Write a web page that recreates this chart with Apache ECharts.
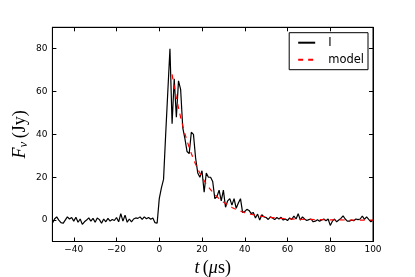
<!DOCTYPE html>
<html><head><meta charset="utf-8">
<script src="https://cdn.jsdelivr.net/npm/echarts@6/dist/echarts.min.js"></script>
<style>html,body{margin:0;padding:0;background:#fff}#c{width:415px;height:277px}</style>
</head><body><div id="c"></div>
<script>
// Sampling grid of the measured light curve (µs)
const tStart = -50, tStep = 1;
// Measured flux density I (Jy), one value per µs from -50 to 100
const fluxI = [
  -1.5, 0.5, 1.5, 0, -1.2, -1.5, 0, 1.5, 0.5, 1.2,
  -0.5, 1.3, -1, 0.5, -2, -0.8, 0, 1, -0.5, 0.8,
  -1, 1, 0.2, -1.5, 0.5, -0.8, 0.8, -0.5, 0.3, -0.2,
  1.2, -0.8, 3, -0.5, 2.3, -1, 0.5, -0.8, 0.5, 1,
  0.8, 1.5, 0.3, 1.5, 0.6, 1.2, 0.4, 1, -1.2, -1.5,
  10, 15, 19, 40, 60, 80, 45, 66, 48, 65,
  61, 43, 38, 32, 31, 41, 40, 29, 22, 20,
  23, 13, 22, 20, 20, 18, 10, 11, 14, 9,
  14, 6, 9, 10, 7, 10, 5.5, 8, 10, 3.5,
  4, 5, 4.5, 3, 3.5, 1, 2.8, 0, 2.5, 1.5,
  1.2, 0.3, 1.5, 1, 0.2, 1.2, 0.5, 1.3, 0, 0.5,
  -0.2, 1, 0.3, 1.9, 0.5, 3, 0, 1.5, 0.5, -0.2,
  0.2, 0.5, -0.8, -0.5, 0.2, -0.5, 0, 0.5, -0.3, 0.5,
  -2.5, -0.5, 0.5, -0.8, 0, 0.8, 2, 0.5, -0.5, -0.5,
  0, -0.3, 0.5, 0.2, 0.5, 1.9, 0.3, 1.5, 0.3, -0.8, 0
];
// Model curve
const modelT = [6,7,8,9,10,11,12,13,14,15,16,17,18,19,20,21,22,23,24,25,26,27,28,29,30,31,32,33,34,35,36,37,38,39,40,42,44,46,48,50,55,60,65,70,75,80,90,100];
const modelF = [68.0,62.3,57.1,52.4,48.0,44.0,40.3,37.0,33.9,31.1,28.5,26.1,23.9,21.9,20.1,18.4,16.9,15.5,14.2,13.0,11.9,10.9,10.0,9.2,8.4,7.7,7.1,6.5,5.9,5.4,5.0,4.6,4.2,3.8,3.5,2.9,2.5,2.1,1.7,1.5,0.9,0.6,0.4,0.3,0.2,0.1,0.0,0.0];
// Tick labels
const xTicks = [-40, -20, 0, 20, 40, 60, 80, 100];
const yTicks = [0, 20, 40, 60, 80];

const times = fluxI.map((_, i) => tStart + i * tStep);
const dataI = times.map((t, i) => [t, fluxI[i]]);
const dataModel = modelT.map((t, i) => [t, modelF[i]]);

const tickFont = {fontFamily: 'DejaVu Sans', fontSize: 9, color: '#000'};
const serif = 'Liberation Serif';
const rich = {
  i: {fontFamily: serif, fontStyle: 'italic', fontSize: 18, color: '#000', lineHeight: 20},
  r: {fontFamily: serif, fontSize: 18, color: '#000', lineHeight: 20},
  s: {fontFamily: serif, fontStyle: 'italic', fontSize: 13, color: '#000', lineHeight: 13, verticalAlign: 'bottom'}
};
const lineBlack = {show: true, onZero: false, lineStyle: {color: '#000', width: 1}};
const tickCommon = {show: true, inside: true, length: 4, lineStyle: {color: '#000', width: 1}};

const chart = echarts.init(document.getElementById('c'), null, {renderer: 'canvas'});
chart.setOption({
  animation: false,
  backgroundColor: '#fff',
  grid: {left: 52.4, right: 42, top: 27.3, bottom: 35.5, show: true, borderColor: '#000', borderWidth: 1,
         containLabel: false, outerBoundsMode: 'none'},
  legend: {
    right: 47, top: 32.7, orient: 'vertical',
    borderColor: '#000', borderWidth: 1, padding: [4, 4, 4, 8],
    itemWidth: 17, itemHeight: 14, itemGap: 5,
    itemStyle: {opacity: 0},
    textStyle: {fontFamily: 'DejaVu Sans', fontSize: 11.5, color: '#000', padding: [0, 0, 0, 8]},
    data: ['I', 'model']
  },
  xAxis: [{
    type: 'value', min: -50, max: 100, position: 'bottom',
    axisLine: lineBlack,
    axisTick: Object.assign({}, tickCommon, {customValues: xTicks}),
    axisLabel: Object.assign({}, tickFont, {customValues: xTicks, margin: 4, formatter: v => String(v).replace('-', '\u2212')}),
    splitLine: {show: false},
    name: '{i|t} {r|(}{i|\u03bc}{r|s)}', nameLocation: 'middle', nameGap: 15,
    nameTextStyle: {rich: rich}
  }, {
    type: 'value', min: -50, max: 100, position: 'top',
    axisLine: lineBlack,
    axisTick: Object.assign({}, tickCommon, {customValues: xTicks}),
    axisLabel: {show: false}, splitLine: {show: false}
  }],
  yAxis: [{
    type: 'value', min: -10, max: 90, position: 'left',
    axisLine: lineBlack,
    axisTick: Object.assign({}, tickCommon, {customValues: yTicks}),
    axisLabel: Object.assign({}, tickFont, {customValues: yTicks, margin: 5}),
    splitLine: {show: false},
    name: '{i|F}{s|\u03bd} {r|(Jy)}', nameLocation: 'middle', nameGap: 22, nameRotate: 90,
    nameMoveOverlap: false,
    nameTextStyle: {rich: rich}
  }, {
    type: 'value', min: -10, max: 90, position: 'right',
    axisLine: lineBlack,
    axisTick: Object.assign({}, tickCommon, {customValues: yTicks}),
    axisLabel: {show: false}, splitLine: {show: false}
  }],
  series: [{
    name: 'I', type: 'line', data: dataI, symbol: 'none', xAxisIndex: 0, yAxisIndex: 0,
    lineStyle: {color: '#000', width: 1.2}, itemStyle: {color: '#000'}, z: 3
  }, {
    name: 'model', type: 'line', data: dataModel, symbol: 'none', xAxisIndex: 0, yAxisIndex: 0,
    lineStyle: {color: '#ff0000', width: 1.2, type: [5, 5]}, itemStyle: {color: '#ff0000'}, z: 4
  }]
});
</script>
</body></html>
